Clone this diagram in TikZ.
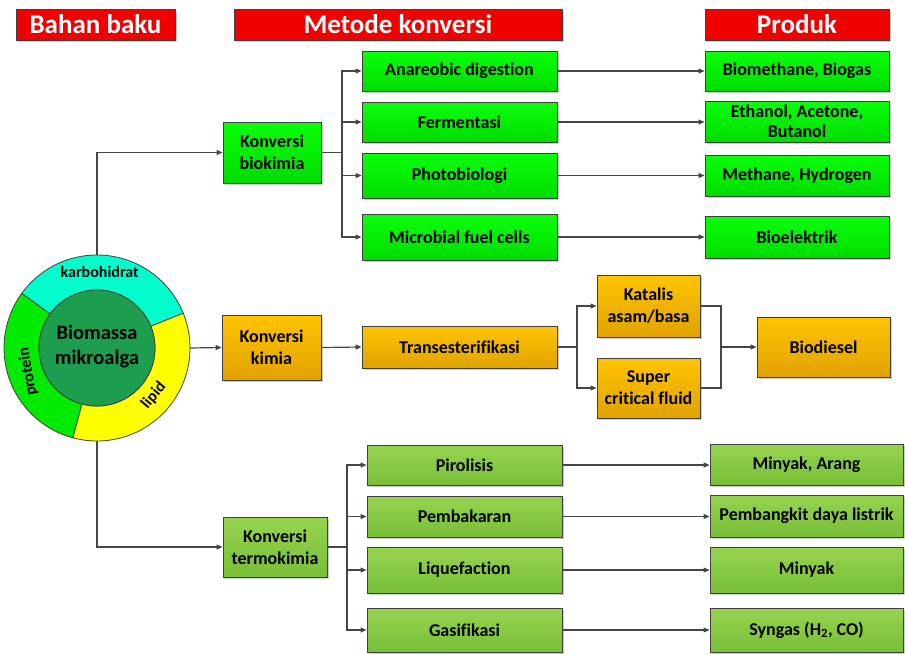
\documentclass[tikz,border=0pt]{standalone}
\usepackage{fontspec}
\setmainfont{Carlito}[Ligatures=NoCommon]
\usetikzlibrary{arrows.meta,shadows,calc}
\definecolor{hdr}{RGB}{240,0,0}
\definecolor{gtop}{RGB}{10,255,10}
\definecolor{gbot}{RGB}{0,220,0}
\definecolor{otop}{RGB}{255,196,0}
\definecolor{obot}{RGB}{224,162,0}
\definecolor{ltop}{RGB}{150,212,80}
\definecolor{lbot}{RGB}{120,190,55}
\definecolor{edge}{RGB}{64,64,64}
\definecolor{ln}{RGB}{70,70,70}
\definecolor{karbo}{RGB}{0,255,204}
\definecolor{prot}{RGB}{0,235,0}
\definecolor{lip}{RGB}{255,255,0}
\definecolor{inner}{RGB}{28,158,78}
\tikzset{
  basebox/.style={draw=edge, line width=0.9pt, align=center, inner sep=2pt,
    font=\fontsize{18}{22}\selectfont\bfseries,
    drop shadow={shadow xshift=2pt, shadow yshift=-2pt, fill=black!40, opacity=0.5}},
  hbox/.style={basebox, fill=hdr, text=white, minimum height=31pt,
    font=\fontsize{27}{30}\selectfont\bfseries},
  gbox/.style={basebox, top color=gtop, bottom color=gbot},
  obox/.style={basebox, top color=otop, bottom color=obot},
  lbox/.style={basebox, top color=ltop, bottom color=lbot},
  conn/.style={draw=ln, line width=1.2pt},
  arr/.style={conn, -{Triangle[length=6pt,width=5pt]}},
  ringlbl/.style={font=\fontsize{16}{18}\selectfont\bfseries, inner sep=0pt}
}
\begin{document}
\begin{tikzpicture}[x=1pt,y=-1pt]
\useasboundingbox (0,0) rectangle (905,654);
% headers
\node[hbox, minimum width=159pt] (hb) at (95.5,24.5) {Bahan baku};
\node[hbox, minimum width=328pt] (hm) at (398,24.5) {Metode konversi};
\node[hbox, minimum width=184pt] (hp) at (797,24.5) {Produk};
% biomass circle
\node[circle, minimum size=186pt, inner sep=0pt] (bio) at (97,348) {};
\begin{scope}[shift={(97,348)}, y=1pt]
  \filldraw[fill=karbo, draw=edge, line width=0.8pt] (22:58) arc[start angle=22, end angle=144, radius=58] -- (144:93) arc[start angle=144, end angle=22, radius=93] -- cycle;
  \filldraw[fill=prot, draw=edge, line width=0.8pt] (144:58) arc[start angle=144, end angle=255, radius=58] -- (255:93) arc[start angle=255, end angle=144, radius=93] -- cycle;
  \filldraw[fill=lip, draw=edge, line width=0.8pt] (255:58) arc[start angle=255, end angle=382, radius=58] -- (382:93) arc[start angle=382, end angle=255, radius=93] -- cycle;
  \filldraw[fill=inner, draw=edge, line width=0.8pt] (0,0) circle[radius=58];
  \node[ringlbl] (lk) at (88:76) {karbohidrat};
  \node[ringlbl, rotate=100] (lp) at (199:73) {protein};
  \node[ringlbl, rotate=50] (ll) at (-40:74) {lipid};
  \node[align=center, font=\fontsize{20.5}{25}\selectfont\bfseries] (lb) at (0,1) {Biomassa\\mikroalga};
\end{scope}
% top branch
\node[gbox, minimum width=98pt, minimum height=61pt] (kb) at (272,152.5) {Konversi\\biokimia};
\node[gbox, minimum width=195pt, minimum height=40pt] (anae) at (459.5,71) {Anareobic digestion};
\node[gbox, minimum width=195pt, minimum height=40pt] (ferm) at (459.5,122) {Fermentasi};
\node[gbox, minimum width=195pt, minimum height=45pt] (photo) at (459.5,175.5) {Photobiologi};
\node[gbox, minimum width=195pt, minimum height=46pt] (mfc) at (459.5,237) {Microbial fuel cells};
\node[gbox, minimum width=184pt, minimum height=40pt] (biom) at (797,71) {Biomethane, Biogas};
\node[gbox, minimum width=184pt, minimum height=41pt, inner sep=0pt, font=\fontsize{18}{20}\selectfont\bfseries] (eth) at (797,121.5) {Ethanol, Acetone,\\Butanol};
\node[gbox, minimum width=184pt, minimum height=41pt] (meth) at (797,175.5) {Methane, Hydrogen};
\node[gbox, minimum width=184pt, minimum height=42pt] (biel) at (797,237) {Bioelektrik};
% middle branch
\node[obox, minimum width=99pt, minimum height=65pt] (kk) at (271.5,347.5) {Konversi\\kimia};
\node[obox, minimum width=195pt, minimum height=42pt] (trans) at (459.5,347) {Transesterifikasi};
\node[obox, minimum width=103pt, minimum height=62pt] (kat) at (648.5,306) {Katalis\\asam/basa};
\node[obox, minimum width=103pt, minimum height=60pt] (sup) at (648.5,388) {Super\\critical fluid};
\node[obox, minimum width=133pt, minimum height=60pt] (biod) at (823.5,347) {Biodiesel};
% bottom branch
\node[lbox, minimum width=104pt, minimum height=60pt] (kt) at (275,547) {Konversi\\termokimia};
\node[lbox, minimum width=195pt, minimum height=40pt] (piro) at (464.5,465) {Pirolisis};
\node[lbox, minimum width=195pt, minimum height=41pt] (pemb) at (464.5,516.5) {Pembakaran};
\node[lbox, minimum width=195pt, minimum height=46pt] (liq) at (464.5,570) {Liquefaction};
\node[lbox, minimum width=195pt, minimum height=44pt] (gas) at (464.5,630) {Gasifikasi};
\node[lbox, minimum width=193pt, minimum height=41pt] (mya) at (806.5,464.5) {Minyak, Arang};
\node[lbox, minimum width=193pt, minimum height=42pt] (pdl) at (806.5,516) {Pembangkit daya listrik};
\node[lbox, minimum width=193pt, minimum height=46pt] (my) at (806.5,570) {Minyak};
\node[lbox, minimum width=193pt, minimum height=44pt] (syn) at (806.5,630) {Syngas (H\textsubscript{2}, CO)};
% junctions
\coordinate (jb) at (342,152.5);
\coordinate (jt) at (347,547);
\coordinate (js) at (577,347);
\coordinate (jm) at (721,347);
% connectors from biomass
\draw[arr] (bio.north) |- (kb.west);
\draw[arr] (bio.east) -- (kk.west);
\draw[arr] (bio.south) |- (kt.west);
% top
\draw[conn] (kb.east) -- (jb);
\draw[arr] (jb) |- (anae.west);
\draw[arr] (jb) |- (ferm.west);
\draw[arr] (jb) |- (photo.west);
\draw[arr] (jb) |- (mfc.west);
\draw[arr] (anae.east) -- (anae.east -| biom.west);
\draw[arr] (ferm.east) -- (ferm.east -| eth.west);
\draw[arr] (photo.east) -- (photo.east -| meth.west);
\draw[arr] (mfc.east) -- (mfc.east -| biel.west);
% middle
\draw[arr] (kk.east) -- (trans.west);
\draw[conn] (trans.east) -- (js);
\draw[arr] (js) |- (kat.west);
\draw[arr] (js) |- (sup.west);
\draw[conn] (kat.east) -| (jm);
\draw[conn] (sup.east) -| (jm);
\draw[arr] (jm) -- (biod.west);
% bottom
\draw[conn] (kt.east) -- (jt);
\draw[arr] (jt) |- (piro.west);
\draw[arr] (jt) |- (pemb.west);
\draw[arr] (jt) |- (liq.west);
\draw[arr] (jt) |- (gas.west);
\draw[arr] (piro.east) -- (piro.east -| mya.west);
\draw[arr] (pemb.east) -- (pemb.east -| pdl.west);
\draw[arr] (liq.east) -- (liq.east -| my.west);
\draw[arr] (gas.east) -- (gas.east -| syn.west);
\end{tikzpicture}
\end{document}
